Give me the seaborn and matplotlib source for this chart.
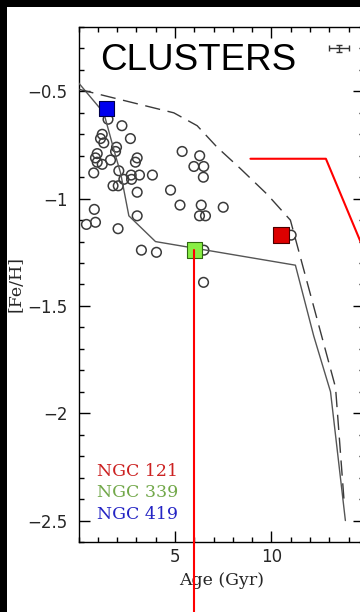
import matplotlib
matplotlib.use("Agg")
import matplotlib.pyplot as plt
from matplotlib.patches import Rectangle
from matplotlib.ticker import FixedLocator, FixedFormatter, MultipleLocator
import pandas as pd
import seaborn as sns

# Star clusters: age (Gyr) and metallicity [Fe/H]
cluster_age = [1.53, 2.25, 1.23, 1.14, 1.31, 2.69, 1.97, 1.92, 0.97, 0.88,
               0.97, 1.23, 1.66, 3.04, 2.95, 0.79, 2.09, 2.35, 2.73, 2.75,
               3.16, 3.83, 1.79, 2.06, 3.04, 4.77, 5.37, 6.28, 5.98, 6.49,
               6.47, 5.26, 6.36, 6.27, 6.58, 7.50, 0.82, 0.88, 0.41, 2.05,
               3.04, 3.26, 4.04, 6.50, 6.48, 11.02]
cluster_feh = [-0.63, -0.66, -0.70, -0.72, -0.74, -0.72, -0.76, -0.78, -0.79, -0.81,
               -0.83, -0.84, -0.82, -0.81, -0.83, -0.88, -0.87, -0.91, -0.89, -0.91,
               -0.89, -0.89, -0.94, -0.94, -0.97, -0.96, -0.78, -0.80, -0.85, -0.85,
               -0.90, -1.03, -1.03, -1.08, -1.08, -1.04, -1.05, -1.11, -1.12, -1.14,
               -1.08, -1.24, -1.25, -1.24, -1.39, -1.17]

# Chemical evolution models
model_a_age = [0.0, 1.31, 1.92, 2.18, 2.61, 3.99, 11.24, 12.19, 13.06, 13.83]
model_a_feh = [-0.46, -0.60, -0.80, -0.88, -1.08, -1.20, -1.31, -1.64, -1.90, -2.50]
model_b_age = [0.0, 4.94, 6.15, 7.18, 8.39, 9.78, 10.98, 13.32, 13.78]
model_b_feh = [-0.49, -0.60, -0.66, -0.76, -0.86, -0.98, -1.10, -1.88, -2.43]

# Highlighted clusters
ngc_names = ["NGC 121", "NGC 339", "NGC 419"]
ngc_age = [10.49, 6.0, 1.45]
ngc_feh = [-1.17, -1.24, -0.58]
ngc_face = ["#dd0000", "#88ee44", "#0000ee"]
ngc_edge = ["#4a0000", "#2f6a10", "#00004a"]
ngc_text = ["#cc2222", "#72a84a", "#2424c4"]

# Typical uncertainty
err_age, err_feh = 13.52, -0.30
err_dage, err_dfeh = 0.52, 0.017

# Axis ticks
xticks = [5, 10]
xtick_labels = ["5", "10"]
yticks = [-0.5, -1.0, -1.5, -2.0, -2.5]
ytick_labels = ["\u22120.5", "\u22121", "\u22121.5", "\u22122", "\u22122.5"]

sns.set_style("ticks")
plt.rcParams["font.family"] = ["DejaVu Sans"]

fig = plt.figure(figsize=(3.6, 6.12), dpi=100)
fig.patch.set_facecolor("black")
fig.add_artist(Rectangle((7 / 360, 0), 1, 1 - 7 / 612, transform=fig.transFigure,
                         facecolor="white", edgecolor="none", zorder=-1))
ax = fig.add_axes([78.5 / 360, 70 / 612, 285.6 / 360, 515 / 612])
ax.set_facecolor("white")

clusters = pd.DataFrame({"age": cluster_age, "feh": cluster_feh})
sns.scatterplot(data=clusters, x="age", y="feh", ax=ax, marker="o", s=48,
                facecolor="none", edgecolor="#3a3a3a", linewidth=1.1,
                legend=False, zorder=2)
ax.collections[-1].set_facecolor("none")

model_a = pd.DataFrame({"age": model_a_age, "feh": model_a_feh})
model_b = pd.DataFrame({"age": model_b_age, "feh": model_b_feh})
sns.lineplot(data=model_a, x="age", y="feh", sort=False, estimator=None, ax=ax,
             color="#555555", linewidth=1.0, zorder=3)
sns.lineplot(data=model_b, x="age", y="feh", sort=False, estimator=None, ax=ax,
             color="#3a3a3a", linewidth=1.0, zorder=3)
ax.lines[-1].set_dashes((11, 5.5))

ngc = pd.DataFrame({"age": ngc_age, "feh": ngc_feh, "name": ngc_names})
sns.scatterplot(data=ngc, x="age", y="feh", hue="name", palette=ngc_face,
                marker="s", s=125, linewidth=0.8, ax=ax, legend=False, zorder=5)
ax.collections[-1].set_edgecolors(ngc_edge)

ax.errorbar(err_age, err_feh, xerr=err_dage, yerr=err_dfeh, color="#333333",
            elinewidth=1.0, capsize=2.5, capthick=1.0, zorder=4)

for name, col, yy in zip(ngc_names, ngc_text, [-2.272, -2.370, -2.472]):
    ax.text(0.98, yy, name, color=col, fontsize=12.5, family="DejaVu Serif",
            ha="left", va="center")

ax.text(0.418, 0.9165, "CLUSTERS", transform=ax.transAxes, ha="center",
        va="baseline", fontsize=26.5, family="Liberation Sans", color="black")

# Connector lines towards the neighbouring panels
i339 = ngc_names.index("NGC 339")
ax.plot([ngc_age[i339], ngc_age[i339]], [ngc_feh[i339], -3.1], color="#ff0000",
        linewidth=1.5, clip_on=False, zorder=6)
ax.plot([8.91, 12.82, 15.4], [-0.814, -0.814, -1.37], color="#ff0000",
        linewidth=1.5, clip_on=False, zorder=6)

ax.set_xlim(0, 14.8)
ax.set_ylim(-2.6, -0.2)
ax.xaxis.set_major_locator(FixedLocator(xticks))
ax.xaxis.set_major_formatter(FixedFormatter(xtick_labels))
ax.xaxis.set_minor_locator(MultipleLocator(1))
ax.yaxis.set_major_locator(FixedLocator(yticks))
ax.yaxis.set_major_formatter(FixedFormatter(ytick_labels))
ax.yaxis.set_minor_locator(MultipleLocator(0.1))
ax.tick_params(which="both", direction="in", top=True, right=True,
               color="black", width=1.0)
ax.tick_params(which="major", length=8, labelsize=12, pad=8)
ax.tick_params(axis="x", which="major", pad=4)
ax.tick_params(which="minor", length=3.8)
for sp in ax.spines.values():
    sp.set_linewidth(1.0)
    sp.set_color("black")

ax.set_xlabel("Age (Gyr)", fontsize=12.5, family="DejaVu Serif")
ax.set_ylabel("[Fe/H]", fontsize=12.5, family="DejaVu Serif")
ax.xaxis.set_label_coords(0.502, -0.058)
ax.yaxis.set_label_coords(-0.19, 0.5)

fig.savefig("out.png", dpi=100, facecolor=fig.get_facecolor())
